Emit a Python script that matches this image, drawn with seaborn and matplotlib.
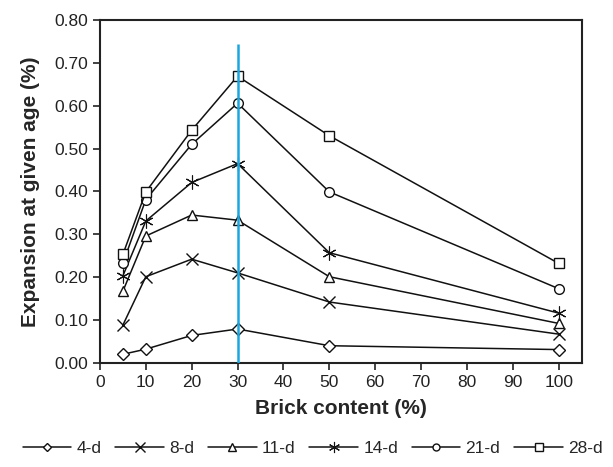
import matplotlib
matplotlib.use("Agg")
import matplotlib.pyplot as plt
import seaborn as sns
import pandas as pd
from matplotlib.lines import Line2D

# ---- data ----
brick = [5, 10, 20, 30, 50, 100]
ages = ["4-d", "8-d", "11-d", "14-d", "21-d", "28-d"]
exp_4d = [0.020, 0.032, 0.064, 0.079, 0.040, 0.031]
exp_8d = [0.088, 0.201, 0.242, 0.210, 0.142, 0.067]
exp_11d = [0.167, 0.296, 0.345, 0.333, 0.201, 0.092]
exp_14d = [0.203, 0.331, 0.421, 0.465, 0.257, 0.116]
exp_21d = [0.232, 0.381, 0.510, 0.606, 0.399, 0.173]
exp_28d = [0.253, 0.399, 0.543, 0.669, 0.530, 0.232]
xticks = list(range(0, 101, 10))
yticks = [0.0, 0.1, 0.2, 0.3, 0.4, 0.5, 0.6, 0.7, 0.8]
ref_x = 30
ref_top = 0.745

series = [exp_4d, exp_8d, exp_11d, exp_14d, exp_21d, exp_28d]
rows = []
for a, vals in zip(ages, series):
    for b, v in zip(brick, vals):
        rows.append({"Brick": b, "Expansion": v, "Age": a})
df = pd.DataFrame(rows)

sns.set_theme(style="ticks")
plt.rcParams["font.family"] = ["Liberation Sans", "DejaVu Sans"]

asterisk = (6, 2, 0)
markers = {"4-d": "D", "8-d": "x", "11-d": "^", "14-d": asterisk, "21-d": "o", "28-d": "s"}
msizes = {"4-d": 6, "8-d": 8, "11-d": 7.5, "14-d": 10, "21-d": 7, "28-d": 7.5}
mews = {"4-d": 1.0, "8-d": 1.0, "11-d": 1.0, "14-d": 0.8, "21-d": 1.0, "28-d": 1.0}
lmsizes = {"4-d": 4.5, "8-d": 7, "11-d": 6, "14-d": 8, "21-d": 5, "28-d": 5.5}

fig = plt.figure(figsize=(6.13, 4.67), dpi=100)
ax = fig.add_axes([0.163, 0.223, 0.786, 0.734])

for a in ages:
    sub = df[df["Age"] == a]
    sns.lineplot(data=sub, x="Brick", y="Expansion", ax=ax, color="#111111",
                 marker=markers[a], markersize=msizes[a], markerfacecolor="white",
                 markeredgecolor="#111111", markeredgewidth=mews[a], linewidth=1.1,
                 legend=False, zorder=3)

ax.vlines(ref_x, 0, ref_top, color="#1aa7e0", linewidth=1.8, zorder=4)

ax.set_xlim(0, 105)
ax.set_ylim(0, 0.8)
ax.set_xticks(xticks)
ax.set_yticks(yticks)
ax.set_yticklabels([f"{t:.2f}" for t in yticks])
ax.tick_params(axis="both", direction="out", length=5, width=1.2, labelsize=12.5, colors="#222222")
for s in ax.spines.values():
    s.set_visible(True)
    s.set_linewidth(1.5)
    s.set_color("#222222")

ax.set_xlabel("Brick content (%)", fontsize=15, fontweight="bold", labelpad=7)
ax.set_ylabel("Expansion at given age (%)", fontsize=15, fontweight="bold", labelpad=10)

handles = [Line2D([], [], color="#111111", marker=markers[a], markersize=lmsizes[a],
                  markerfacecolor="white", markeredgecolor="#111111", markeredgewidth=mews[a],
                  linewidth=1.1) for a in ages]
fig.legend(handles, ages, loc="center", bbox_to_anchor=(0.51, 0.04), ncol=6, frameon=False,
           fontsize=12.5, handlelength=2.8, handletextpad=0.3, columnspacing=0.8)

fig.savefig("out.png", dpi=100)
